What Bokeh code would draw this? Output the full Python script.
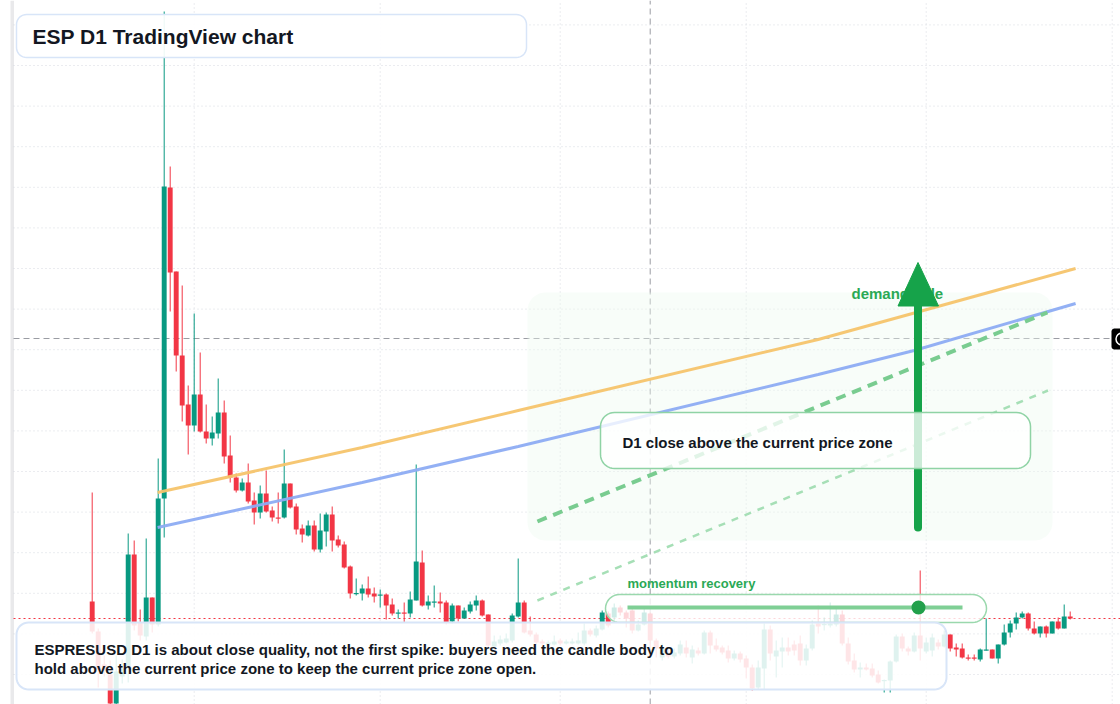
import numpy as np
from bokeh.plotting import figure
from bokeh.models import Range1d
from bokeh.core.properties import value
from bokeh.embed import file_html
from bokeh.resources import INLINE

# ---------------- data (ESPRESUSD, daily bars) ----------------
opens = [0.159, 0.129, 0.096, 0.086, 0.057, 0.084, 0.094, 0.206, 0.138, 0.124,
         0.163, 0.136, 0.262, 0.573, 0.489, 0.405, 0.356, 0.335, 0.366, 0.329,
         0.322, 0.327, 0.348, 0.305, 0.283, 0.270, 0.278, 0.260, 0.248, 0.267,
         0.250, 0.243, 0.243, 0.277, 0.254, 0.232, 0.225, 0.235, 0.211, 0.229,
         0.246, 0.221, 0.216, 0.194, 0.1665, 0.167, 0.172, 0.167, 0.165, 0.166,
         0.156, 0.147, 0.148, 0.147, 0.160, 0.198, 0.155, 0.158, 0.159, 0.158,
         0.139, 0.155, 0.142, 0.149, 0.155, 0.160, 0.146, 0.114, 0.117, 0.118,
         0.120, 0.144, 0.158, 0.130, 0.126, 0.119, 0.116, 0.116, 0.120, 0.117,
         0.117, 0.117, 0.117, 0.130, 0.125, 0.131, 0.147, 0.143, 0.153, 0.148,
         0.150, 0.130, 0.136, 0.147, 0.120, 0.103, 0.108, 0.104, 0.107, 0.113,
         0.103, 0.110, 0.107, 0.128, 0.115, 0.113, 0.110, 0.102, 0.107, 0.102,
         0.093, 0.073, 0.092, 0.131, 0.104, 0.109, 0.113, 0.116, 0.117, 0.100,
         0.112, 0.137, 0.1355, 0.135, 0.136, 0.146, 0.117, 0.100, 0.091, 0.093,
         0.092, 0.086, 0.0795, 0.080, 0.099, 0.124, 0.112, 0.109, 0.125, 0.109,
         0.110, 0.118, 0.114, 0.126, 0.113, 0.112, 0.103, 0.103, 0.101, 0.110,
         0.111, 0.102, 0.116, 0.128, 0.137, 0.143, 0.147, 0.132, 0.127, 0.134,
         0.127, 0.139, 0.132, 0.144]
highs = [0.268, 0.132, 0.105, 0.100, 0.105, 0.101, 0.227, 0.220, 0.151, 0.222,
         0.163, 0.302, 0.749, 0.594, 0.489, 0.475, 0.375, 0.447, 0.408, 0.356,
         0.344, 0.382, 0.360, 0.325, 0.287, 0.282, 0.297, 0.268, 0.275, 0.290,
         0.254, 0.268, 0.311, 0.277, 0.257, 0.236, 0.240, 0.240, 0.247, 0.248,
         0.254, 0.225, 0.219, 0.195, 0.182, 0.176, 0.184, 0.173, 0.171, 0.167,
         0.162, 0.151, 0.158, 0.169, 0.296, 0.210, 0.165, 0.175, 0.168, 0.160,
         0.157, 0.155, 0.153, 0.159, 0.165, 0.161, 0.146, 0.125, 0.125, 0.127,
         0.147, 0.202, 0.160, 0.144, 0.128, 0.121, 0.120, 0.125, 0.122, 0.121,
         0.122, 0.128, 0.137, 0.132, 0.135, 0.150, 0.149, 0.157, 0.155, 0.150,
         0.152, 0.140, 0.153, 0.148, 0.122, 0.117, 0.112, 0.112, 0.120, 0.120,
         0.115, 0.113, 0.130, 0.130, 0.122, 0.115, 0.115, 0.110, 0.109, 0.105,
         0.096, 0.100, 0.137, 0.135, 0.120, 0.123, 0.123, 0.120, 0.125, 0.116,
         0.140, 0.155, 0.143, 0.158, 0.152, 0.150, 0.123, 0.107, 0.098, 0.097,
         0.097, 0.090, 0.081, 0.100, 0.126, 0.127, 0.114, 0.128, 0.190, 0.123,
         0.127, 0.121, 0.130, 0.126, 0.117, 0.117, 0.106, 0.106, 0.112, 0.142,
         0.111, 0.116, 0.136, 0.140, 0.148, 0.149, 0.148, 0.139, 0.134, 0.135,
         0.139, 0.143, 0.156, 0.149]
lows = [0.127, 0.073, 0.084, 0.055, 0.056, 0.077, 0.078, 0.130, 0.120, 0.120,
        0.128, 0.134, 0.223, 0.449, 0.389, 0.339, 0.306, 0.329, 0.328, 0.317,
        0.315, 0.322, 0.297, 0.278, 0.268, 0.269, 0.257, 0.236, 0.242, 0.248,
        0.239, 0.237, 0.242, 0.252, 0.226, 0.218, 0.224, 0.209, 0.208, 0.214,
        0.209, 0.213, 0.192, 0.162, 0.165, 0.160, 0.163, 0.158, 0.153, 0.141,
        0.145, 0.142, 0.138, 0.143, 0.160, 0.154, 0.151, 0.153, 0.148, 0.136,
        0.137, 0.139, 0.142, 0.147, 0.150, 0.144, 0.113, 0.112, 0.115, 0.117,
        0.118, 0.143, 0.127, 0.124, 0.116, 0.114, 0.115, 0.115, 0.115, 0.116,
        0.116, 0.116, 0.115, 0.124, 0.123, 0.130, 0.133, 0.140, 0.145, 0.133,
        0.127, 0.129, 0.135, 0.103, 0.103, 0.100, 0.102, 0.102, 0.105, 0.103,
        0.097, 0.105, 0.106, 0.107, 0.109, 0.106, 0.098, 0.100, 0.098, 0.082,
        0.070, 0.071, 0.071, 0.100, 0.083, 0.093, 0.105, 0.105, 0.095, 0.095,
        0.110, 0.127, 0.130, 0.133, 0.134, 0.115, 0.096, 0.088, 0.083, 0.090,
        0.083, 0.077, 0.068, 0.068, 0.098, 0.109, 0.105, 0.108, 0.100, 0.107,
        0.104, 0.111, 0.113, 0.109, 0.104, 0.102, 0.100, 0.100, 0.099, 0.110,
        0.102, 0.097, 0.115, 0.123, 0.131, 0.142, 0.130, 0.126, 0.123, 0.123,
        0.127, 0.131, 0.132, 0.141]
closes = [0.129, 0.091, 0.090, 0.057, 0.089, 0.092, 0.206, 0.135, 0.125, 0.163,
          0.136, 0.262, 0.574, 0.488, 0.405, 0.355, 0.335, 0.366, 0.329, 0.322,
          0.328, 0.348, 0.304, 0.283, 0.270, 0.278, 0.259, 0.248, 0.267, 0.249,
          0.243, 0.242, 0.277, 0.253, 0.231, 0.226, 0.235, 0.211, 0.230, 0.246,
          0.220, 0.215, 0.193, 0.167, 0.1675, 0.172, 0.166, 0.164, 0.166, 0.155,
          0.147, 0.148, 0.147, 0.161, 0.199, 0.155, 0.159, 0.159, 0.157, 0.138,
          0.155, 0.142, 0.150, 0.156, 0.160, 0.145, 0.115, 0.119, 0.121, 0.122,
          0.145, 0.158, 0.128, 0.126, 0.118, 0.117, 0.118, 0.119, 0.117, 0.119,
          0.119, 0.120, 0.130, 0.126, 0.132, 0.148, 0.135, 0.153, 0.148, 0.142,
          0.130, 0.136, 0.148, 0.120, 0.112, 0.112, 0.104, 0.108, 0.116, 0.107,
          0.111, 0.107, 0.128, 0.115, 0.111, 0.108, 0.102, 0.107, 0.101, 0.093,
          0.072, 0.093, 0.131, 0.107, 0.110, 0.113, 0.109, 0.110, 0.100, 0.112,
          0.136, 0.134, 0.1365, 0.137, 0.146, 0.117, 0.099, 0.091, 0.093, 0.091,
          0.085, 0.078, 0.0805, 0.099, 0.124, 0.112, 0.109, 0.125, 0.112, 0.118,
          0.123, 0.114, 0.126, 0.112, 0.111, 0.103, 0.102, 0.102, 0.111, 0.111,
          0.102, 0.116, 0.128, 0.137, 0.143, 0.147, 0.132, 0.127, 0.134, 0.127,
          0.139, 0.132, 0.144, 0.142]
bars = list(range(len(opens)))

month_starts = [17, 48, 78, 109, 139, 170]          # vertical date grid (bar index)
price_grid = [round(0.7356 - 0.0406 * k, 4) for k in range(17)]
last_price = 0.142
cross_bar = 93
cross_price = 0.422

orange_bars = [10.9, 45, 71, 121, 163.9]
orange_vals = [0.268, 0.313, 0.350, 0.421, 0.492]
blue_bars = [10.9, 45, 71, 121, 137, 163.9]
blue_vals = [0.233, 0.278, 0.314, 0.386, 0.410, 0.457]
target_bars = [74.2, 159.2]
target_vals = [0.239, 0.448]
support_bars = [74.2, 159.3]
support_vals = [0.160, 0.370]

UP = "#089981"
DOWN = "#f23645"
INK = "#131722"
GREEN_TXT = "#2aa955"
FONT = value("Liberation Sans")

W, H = 1120, 704
X0, X1 = -91.7 / 6, (W - 91.7) / 6
p = figure(width=W, height=H, x_range=Range1d(X0, X1), y_range=Range1d(0.056, 0.760),
           x_axis_location=None, y_axis_location=None, toolbar_location=None,
           output_backend="svg", min_border=0, outline_line_color=None,
           background_fill_color="white", border_fill_color="white")
for g in p.grid:
    g.visible = False
p.extra_x_ranges = {"px": Range1d(0, W)}
p.extra_y_ranges = {"py": Range1d(H, 0)}
PX = dict(x_range_name="px", y_range_name="py")


def rrect(x0, y0, x1, y1, r, n=10):
    xs, ys = [], []
    for cx, cy, a0, a1 in [(x1 - r, y0 + r, -90, 0), (x1 - r, y1 - r, 0, 90),
                           (x0 + r, y1 - r, 90, 180), (x0 + r, y0 + r, 180, 270)]:
        for t in np.radians(np.linspace(a0, a1, n)):
            xs.append(cx + r * np.cos(t))
            ys.append(cy + r * np.sin(t))
    return xs, ys


# left strip
p.quad(left=[10], right=[13.5], top=[0], bottom=[H], fill_color="#e9e9eb", line_color=None, **PX)

# grid
gx = (13 - 91.7) / 6
p.segment(x0=month_starts, y0=[0.056] * len(month_starts), x1=month_starts, y1=[0.76] * len(month_starts),
          line_color="#d6d9e0", line_width=1, line_dash="1 3")
p.segment(x0=[gx] * len(price_grid), y0=price_grid, x1=[X1] * len(price_grid), y1=price_grid,
          line_color="#d6d9e0", line_width=1, line_dash="1 3")

# crosshair
p.segment(x0=[cross_bar], y0=[0.056], x1=[cross_bar], y1=[0.76], line_color="#9a9ca3", line_width=1, line_dash="6 4")
p.segment(x0=[gx], y0=[cross_price], x1=[(1110 - 91.7) / 6], y1=[cross_price], line_color="#9a9ca3", line_width=1, line_dash="6 4")

# current price line
p.segment(x0=[gx], y0=[last_price], x1=[X1], y1=[last_price], line_color=DOWN, line_width=1.2, line_dash="2 3")

# candles
colors = [UP if c >= o else DOWN for o, c in zip(opens, closes)]
tops = [max(o, c) for o, c in zip(opens, closes)]
bots = [min(o, c) if abs(o - c) >= 0.0012 else max(o, c) - 0.0012 for o, c in zip(opens, closes)]
p.segment(x0=bars, y0=lows, x1=bars, y1=highs, line_color=colors, line_width=1)
p.vbar(x=bars, top=tops, bottom=bots, width=0.82, fill_color=colors, line_color=None)

# demand zone
zx, zy = rrect(527, 292, 1052, 540, 18)
p.patch(zx, zy, fill_color="#eefaf1", fill_alpha=0.4, line_color=None, **PX)

# trend lines
p.line(orange_bars, orange_vals, line_color="#f6c46c", line_width=3, line_alpha=0.95)
p.line(blue_bars, blue_vals, line_color="#8dacf3", line_width=3, line_alpha=0.95)
p.line(target_bars, target_vals, line_color="#79cc90", line_width=4, line_dash="10 7")
p.line(support_bars, support_vals, line_color="#a6dfb6", line_width=2.5, line_dash="7 7")

# demand label + arrow
p.text(x=[851], y=[293], text=["demand side"], text_font=FONT, text_font_style="bold",
       text_font_size="15px", text_color=GREEN_TXT, text_baseline="middle", text_align="left", **PX)
p.line([917.5, 917.5], [527, 300], line_color="#16a34a", line_width=8, line_cap="round", **PX)
p.patch([917.5, 897.5, 938], [262, 305.5, 305.5], fill_color="#16a34a", line_color="#16a34a", line_width=1, **PX)

# D1 box
bx, by = rrect(600, 412, 1030, 468, 14)
p.patch(bx, by, fill_color="white", fill_alpha=0.78, line_color="#8fd3a5", line_width=1.5, **PX)
p.text(x=[622], y=[441.5], text=["D1 close above the current price zone"], text_font=FONT,
       text_font_style="bold", text_font_size="15px", text_color=INK, text_baseline="middle", **PX)

# momentum box
mx, my = rrect(605, 594, 986, 622, 14)
p.patch(mx, my, fill_color="white", fill_alpha=0.8, line_color="#9ad8ad", line_width=1.5, **PX)
p.line([627, 962], [607, 607], line_color="#7fcf95", line_width=4, **PX)
p.scatter([918], [607], size=14, fill_color="#22a04b", line_color=None, **PX)
p.text(x=[627], y=[583], text=["momentum recovery"], text_font=FONT, text_font_style="bold",
       text_font_size="13px", text_color=GREEN_TXT, text_baseline="middle", **PX)

# note box
nx, ny = rrect(16, 622, 946, 689, 12)
p.patch(nx, ny, fill_color="white", fill_alpha=0.87, line_color="#d8e5f8", line_width=2, **PX)
p.text(x=[34, 34], y=[648.5, 668],
       text=["ESPRESUSD D1 is about close quality, not the first spike: buyers need the candle body to",
             "hold above the current price zone to keep the current price zone open."],
       text_font=FONT, text_font_style="bold", text_font_size="15px", text_color=INK,
       text_baseline="middle", **PX)

# title box
tx, ty = rrect(16, 14, 526, 57, 10)
p.patch(tx, ty, fill_color="white", fill_alpha=0.92, line_color="#d8e5f8", line_width=1.5, **PX)
p.text(x=[32], y=[36], text=["ESP D1 TradingView chart"], text_font=FONT, text_font_style="bold",
       text_font_size="21px", text_color=INK, text_baseline="middle", **PX)

# crosshair price tag (cut at right edge)
kx, ky = rrect(1111, 328, 1132, 349, 3)
p.patch(kx, ky, fill_color="#000000", line_color=None, **PX)
p.scatter([1121.5], [338.5], size=12, fill_color=None, line_color="white", line_width=1.5, **PX)

open("out.html", "w").write(file_html(p, INLINE))
